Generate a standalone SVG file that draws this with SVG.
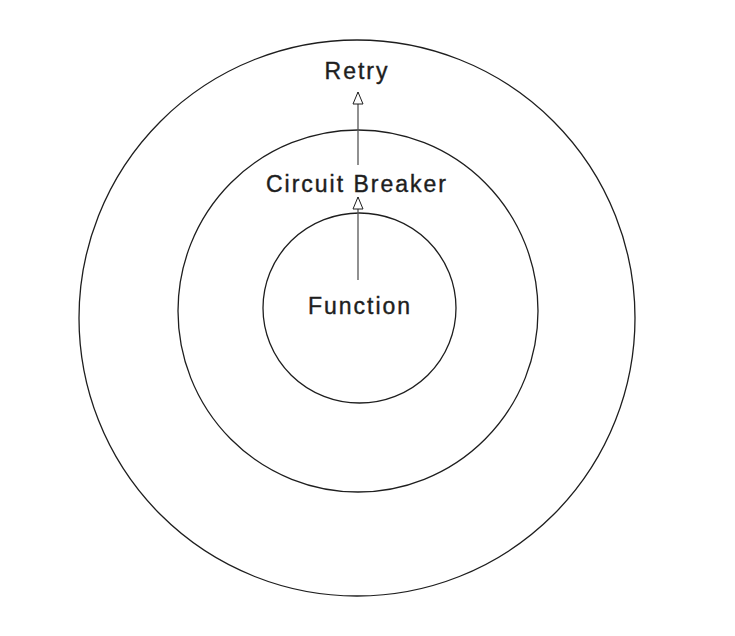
<svg xmlns="http://www.w3.org/2000/svg" width="735" height="636" viewBox="0 0 735 636">
  <defs>
    <marker id="tri" viewBox="0 0 14 12" refX="13" refY="6" markerWidth="14" markerHeight="12" markerUnits="userSpaceOnUse" orient="auto">
      <path d="M1,1 L13,6 L1,11 Z" fill="#ffffff" stroke="#1e1e1e" stroke-width="1"/>
    </marker>
    <style>
      .ring { fill: none; stroke: #1e1e1e; stroke-width: 1.3; }
      .lbl { font-family: "Liberation Sans", Arial, sans-serif; font-size: 23px; fill: #1e1e1e; stroke: #1e1e1e; stroke-width: 0.4; text-anchor: middle; letter-spacing: 2px; }
      .conn { stroke: #555555; stroke-width: 1.3; fill: none; marker-end: url(#tri); }
    </style>
  </defs>
  <rect width="735" height="636" fill="#ffffff"/>
  <g id="retry">
    <ellipse class="ring" cx="357" cy="318" rx="278" ry="278"/>
    <text class="lbl" x="357" y="79">Retry</text>
  </g>
  <g id="circuit-breaker">
    <ellipse class="ring" cx="358" cy="311" rx="180" ry="181"/>
    <text class="lbl" x="357" y="192">Circuit Breaker</text>
  </g>
  <g id="function">
    <ellipse class="ring" cx="359.5" cy="308" rx="96.5" ry="95"/>
    <text class="lbl" x="360" y="314">Function</text>
  </g>
  <g id="connectors">
    <line class="conn" x1="358" y1="280" x2="358" y2="197"/>
    <line class="conn" x1="358" y1="165" x2="358" y2="92"/>
  </g>
</svg>
